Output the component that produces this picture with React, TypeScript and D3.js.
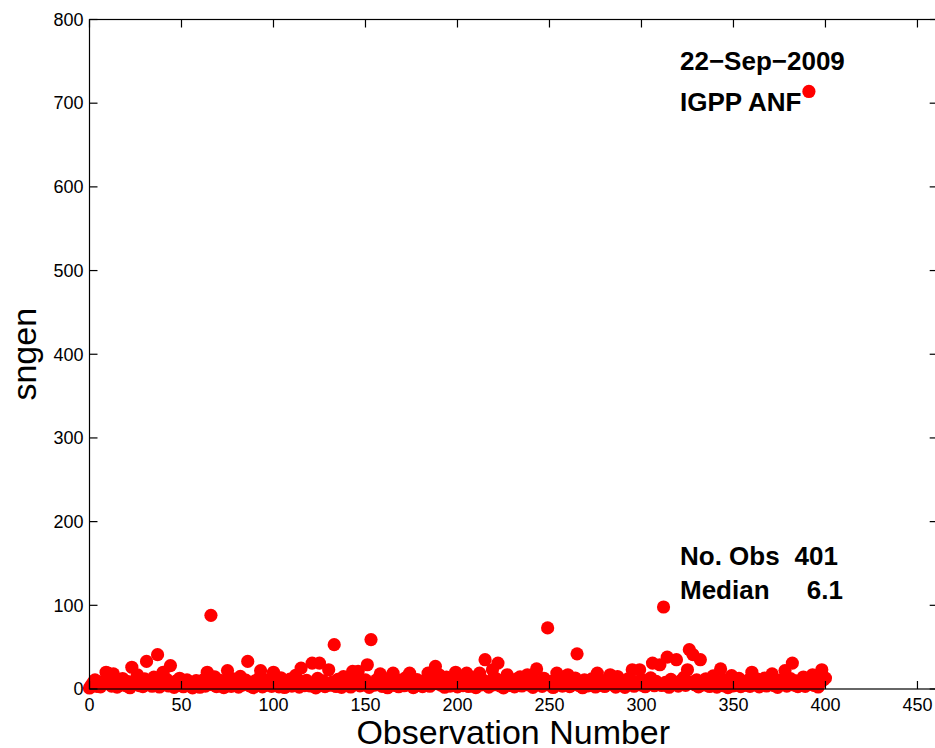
import React, { useEffect, useRef } from "react";
import * as d3 from "d3";

// sngen value for each observation (index = observation number)
const sngen: number[] = [
  1.2, 4.5, 7.8, 11, 3.1, 8.4, 2.6, 5.9, 9.3, 20, 19, 6.2, 3.4, 18, 7.1, 2.2, 9.8, 4.7, 12.5, 5.3,
  3.8, 8.9, 1.5, 26, 6.6, 10.2, 17, 4.1, 7.4, 2.9, 12.1, 33, 5.6, 9.1, 3.3, 14.2, 6.9, 41, 2.4, 8.1,
  20, 5.2, 11.6, 3.6, 28, 7.7, 1.9, 9.5, 4.4, 12.8, 6.1, 2.7, 8.6, 10.9, 3.9, 5.4, 1.4, 7.3, 9.9, 4.2,
  2.1, 6.4, 11.3, 3.5, 20, 8.2, 88, 5.1, 14.6, 2.8, 7.6, 10.4, 4.9, 1.7, 9.2, 22, 6.7, 3.2, 12.2, 5.8,
  8.7, 2.3, 15.1, 4.6, 7.2, 10.6, 33, 3.7, 6.3, 1.6, 9.7, 5.5, 12.4, 22, 2.5, 7.9, 4.3, 11.1, 6.8, 3.1,
  20, 5.7, 8.3, 2.6, 13.4, 6.5, 1.8, 9.4, 4.8, 11.8, 3.4, 7.5, 16.2, 5.3, 2.2, 25, 8.8, 4.1, 10.3, 6.9,
  3.6, 31, 7.1, 1.3, 12.7, 31, 5.9, 9.6, 2.9, 6.2, 23, 4.5, 8.5, 53, 3.0, 11.4, 6.6, 1.9, 14.8, 7.8,
  4.0, 9.0, 2.4, 21, 6.0, 12.0, 21, 3.8, 8.0, 5.0, 10.8, 29, 2.0, 59, 6.8, 4.6, 11.0, 7.0, 18, 3.2,
  9.3, 5.6, 1.5, 12.9, 7.4, 19, 4.2, 8.6, 2.7, 10.5, 6.1, 3.9, 13.7, 5.0, 19, 8.0, 1.7, 6.9, 11.2, 4.4,
  7.6, 2.8, 10.1, 5.4, 19, 3.3, 8.4, 12.6, 27, 6.3, 17, 4.7, 9.8, 2.1, 14.1, 6.0, 3.5, 8.9, 5.2, 20,
  2.6, 11.7, 6.7, 4.0, 9.1, 19, 3.0, 7.3, 13.5, 5.7, 1.6, 8.2, 19, 4.9, 10.7, 35, 6.4, 2.3, 9.4, 23,
  5.1, 12.3, 31, 3.7, 7.9, 1.4, 10.0, 17, 6.0, 4.3, 8.8, 2.5, 11.9, 5.8, 14.4, 3.6, 7.0, 9.7, 17, 4.8,
  6.5, 2.0, 10.4, 24, 5.5, 8.1, 3.1, 12.8, 6.2, 73, 4.6, 9.2, 1.8, 7.7, 19, 5.0, 11.5, 3.4, 8.3, 6.1,
  17, 2.9, 9.0, 5.9, 13.1, 42, 4.1, 7.5, 1.5, 10.9, 6.6, 3.7, 8.7, 12.0, 5.3, 2.4, 19, 7.2, 4.5, 9.9,
  3.0, 6.9, 11.3, 17, 5.6, 8.5, 2.2, 14.9, 6.1, 4.0, 9.6, 1.9, 7.4, 12.5, 5.2, 23, 3.3, 8.9, 6.0, 23,
  4.7, 10.2, 2.7, 7.8, 5.4, 13.3, 31, 3.9, 9.0, 6.5, 29, 4.2, 98, 8.0, 38, 2.1, 11.6, 5.8, 7.1, 35,
  3.5, 9.4, 6.2, 13.8, 4.4, 23, 47, 8.3, 41, 5.1, 10.8, 2.6, 35, 7.6, 4.9, 12.2, 6.4, 3.0, 9.1, 15.6,
  5.7, 2.3, 8.8, 24, 4.0, 11.1, 6.7, 1.7, 9.5, 16, 3.8, 7.3, 5.0, 12.7, 2.9, 8.4, 6.1, 4.3, 10.6, 3.2,
  20, 7.0, 4.8, 11.9, 2.5, 8.6, 5.9, 13.0, 3.6, 9.2, 6.3, 18, 4.1, 7.9, 2.0, 10.3, 5.5, 8.1, 22, 3.4,
  6.8, 12.4, 31, 4.6, 9.7, 2.8, 7.5, 5.2, 14.3, 3.1, 8.5, 714, 6.0, 17, 4.2, 10.1, 2.4, 7.7, 23, 11.0,
  13,
];

const xTicks = [0, 50, 100, 150, 200, 250, 300, 350, 400, 450];
const yTicks = [0, 100, 200, 300, 400, 500, 600, 700, 800];

const dateText = "22\u2212Sep\u22122009";
const stationText = "IGPP ANF";
const obsLabel = "No. Obs";
const obsValue = "401";
const medianLabel = "Median";
const medianValue = "6.1";

const W = 935;
const H = 748;
const FONT = "'Liberation Sans', Arial, Helvetica, sans-serif";

const App = () => {
  const svgRef = useRef<SVGSVGElement>(null);

  useEffect(() => {
    document.body.style.margin = "0";
    const svg = d3.select(svgRef.current);
    svg.selectAll("*").remove();

    const x = d3.scaleLinear().domain([0, 461]).range([89.5, 937.7]);
    const y = d3.scaleLinear().domain([0, 800]).range([689, 19.5]);
    const [x0, x1] = x.range();
    const [y0, y1] = y.range();
    const tick = 8;

    svg.append("rect").attr("width", W).attr("height", H).attr("fill", "#fff");

    // points
    svg
      .append("g")
      .selectAll("circle")
      .data(sngen)
      .join("circle")
      .attr("cx", (d, i) => x(i))
      .attr("cy", (d) => y(d))
      .attr("r", 6.6)
      .attr("fill", "#ff0000");

    // box
    const axes = svg.append("g").attr("stroke", "#000").attr("stroke-width", 1.2).attr("fill", "none");
    axes
      .append("rect")
      .attr("x", x0)
      .attr("y", y1)
      .attr("width", x1 - x0)
      .attr("height", y0 - y1);

    // x ticks (bottom and top, pointing inward)
    xTicks.forEach((t) => {
      axes.append("line").attr("x1", x(t)).attr("x2", x(t)).attr("y1", y0).attr("y2", y0 - tick);
      axes.append("line").attr("x1", x(t)).attr("x2", x(t)).attr("y1", y1).attr("y2", y1 + tick);
    });
    yTicks.forEach((t) => {
      axes.append("line").attr("x1", x0).attr("x2", x0 + tick).attr("y1", y(t)).attr("y2", y(t));
      axes.append("line").attr("x1", x1).attr("x2", x1 - tick).attr("y1", y(t)).attr("y2", y(t));
    });

    // tick labels
    svg
      .append("g")
      .selectAll("text")
      .data(xTicks)
      .join("text")
      .attr("x", (d) => x(d))
      .attr("y", y0 + 22)
      .attr("text-anchor", "middle")
      .style("font-family", FONT)
      .style("font-size", "18px")
      .text((d) => d);

    svg
      .append("g")
      .selectAll("text")
      .data(yTicks)
      .join("text")
      .attr("x", x0 - 6)
      .attr("y", (d) => y(d))
      .attr("dy", "0.35em")
      .attr("text-anchor", "end")
      .style("font-family", FONT)
      .style("font-size", "18px")
      .text((d) => d);

    // axis titles
    svg
      .append("text")
      .attr("x", (x0 + 935) / 2 + 1)
      .attr("y", 744)
      .attr("text-anchor", "middle")
      .style("font-family", FONT)
      .style("font-size", "34px")
      .text("Observation Number");

    svg
      .append("text")
      .attr("transform", `translate(36,${(y0 + y1) / 2}) rotate(-90)`)
      .attr("text-anchor", "middle")
      .style("font-family", FONT)
      .style("font-size", "34px")
      .text("sngen");

    // annotations
    const ann = svg
      .append("g")
      .style("font-family", FONT)
      .style("font-size", "26px")
      .style("font-weight", "bold");
    ann.append("text").attr("x", 680).attr("y", 70).text(dateText);
    ann.append("text").attr("x", 680).attr("y", 111).text(stationText);
    ann.append("text").attr("x", 680).attr("y", 565).text(obsLabel);
    ann.append("text").attr("x", 838).attr("y", 565).attr("text-anchor", "end").text(obsValue);
    ann.append("text").attr("x", 680).attr("y", 599).text(medianLabel);
    ann.append("text").attr("x", 843).attr("y", 599).attr("text-anchor", "end").text(medianValue);

    return () => {
      svg.selectAll("*").remove();
    };
  }, []);

  return <svg ref={svgRef} width={W} height={H} style={{ display: "block" }}></svg>;
};

export default App;
